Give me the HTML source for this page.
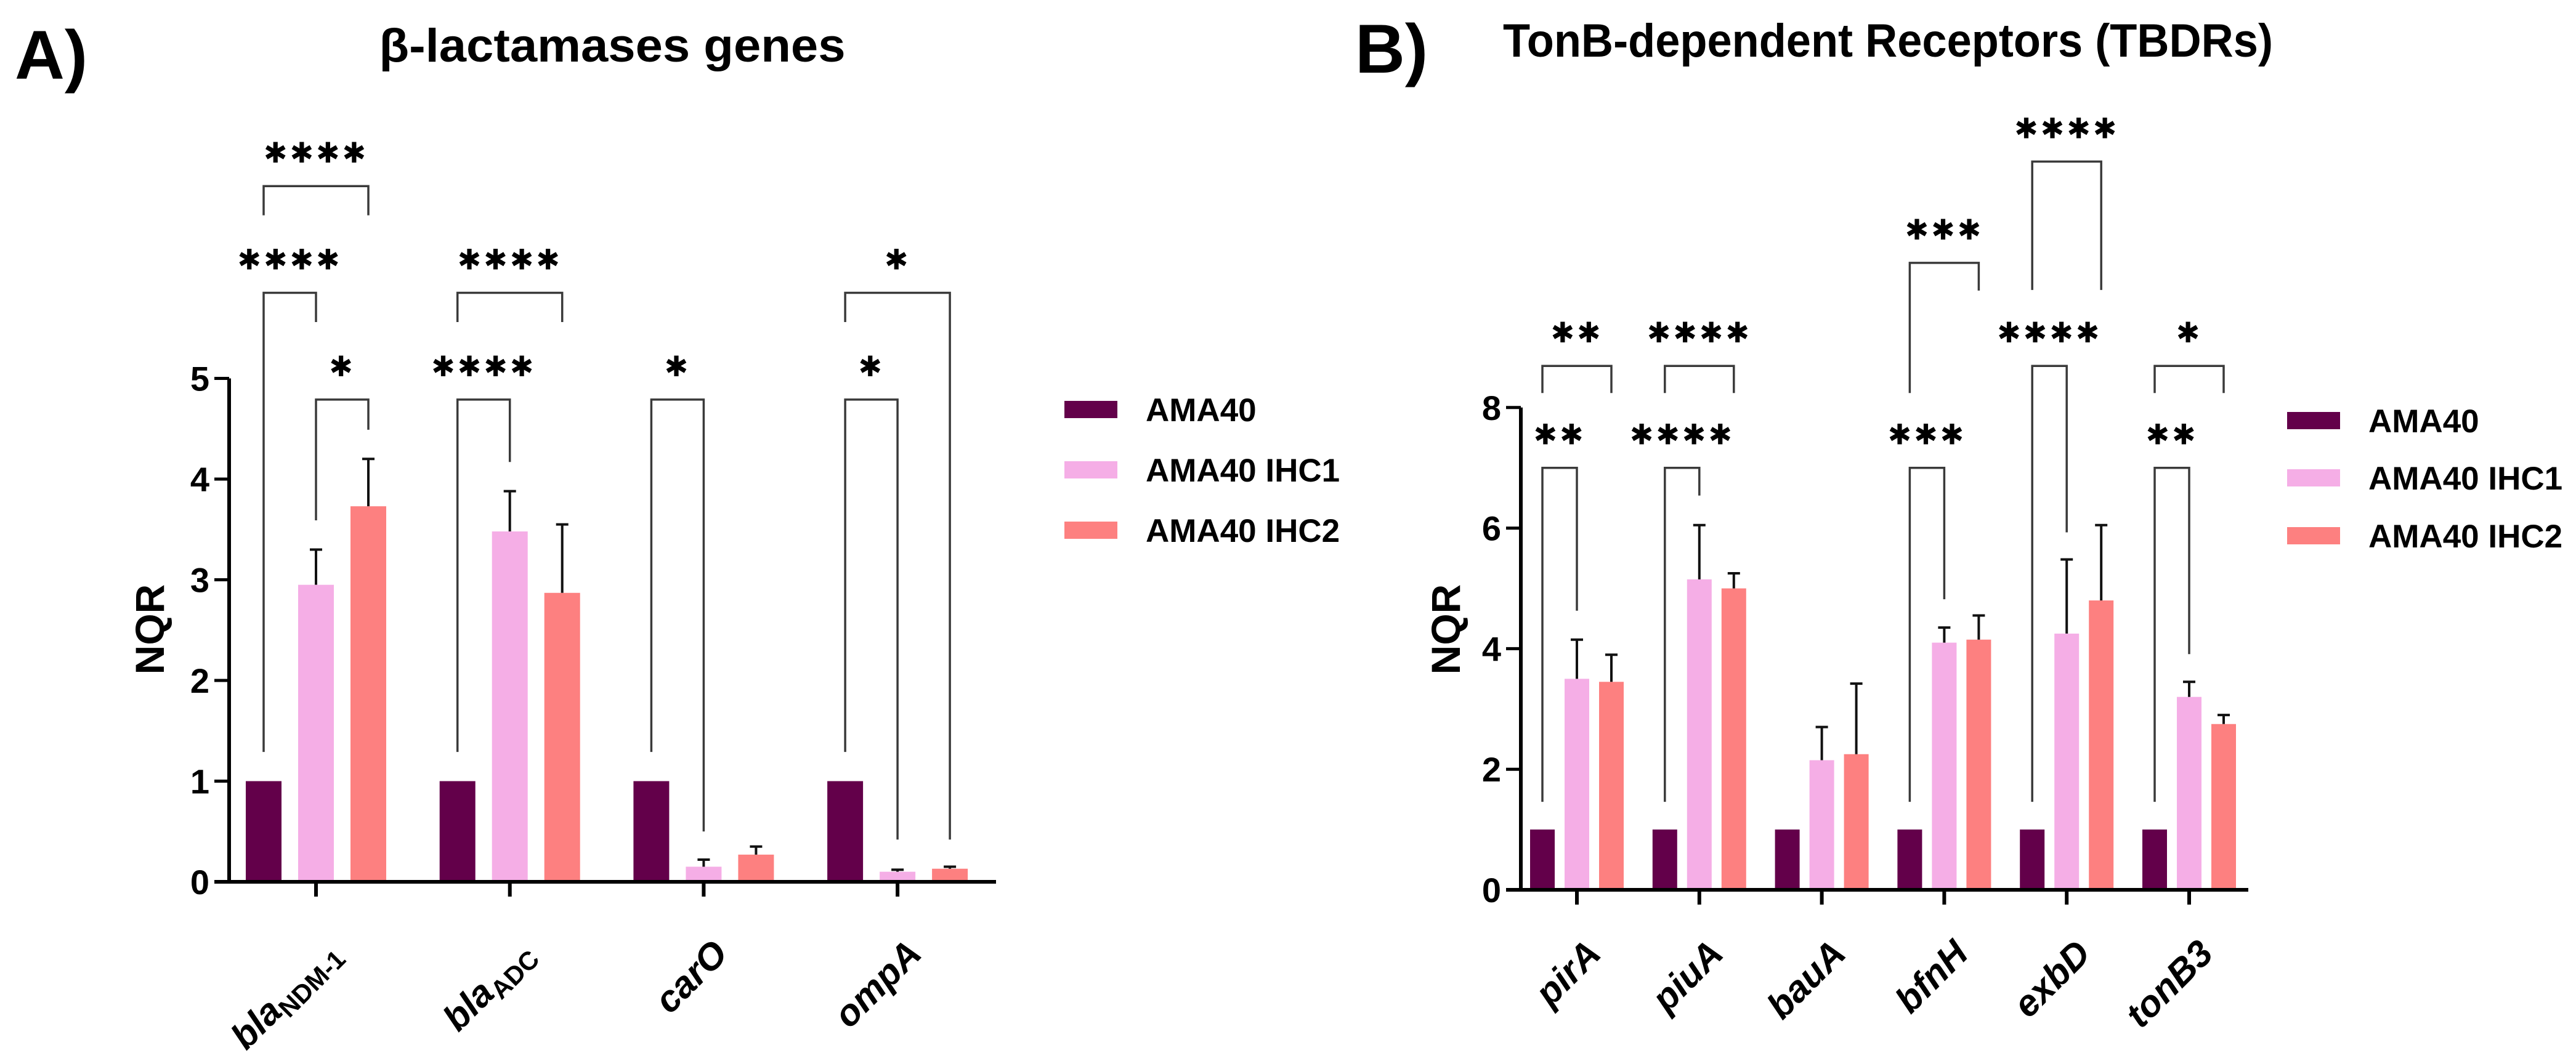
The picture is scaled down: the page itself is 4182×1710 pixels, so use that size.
<!DOCTYPE html>
<html><head><meta charset="utf-8"><style>
html,body{margin:0;padding:0;background:#fff;}
svg{display:block;}
text{font-family:"Liberation Sans","DejaVu Sans",sans-serif;font-weight:bold;fill:#000;}
.star{font-family:"DejaVu Sans",sans-serif;font-size:46px;letter-spacing:4px;}
</style></head><body>
<svg id="fig" width="4182" height="1710" viewBox="0 0 4182 1710" xmlns="http://www.w3.org/2000/svg">
<g id="panelA"></g>
<g id="panelB"></g>
</svg>
<script>
// ---- Panel A data ----
const catsA = ["NDM","ADC","carO","ompA"];
const amaA = [1,1,1,1];
const ihc1A = [2.95,3.48,0.15,0.10];
const ihc2A = [3.73,2.87,0.27,0.13];
const ihc1ErrA = [3.30,3.88,0.22,0.12];
const ihc2ErrA = [4.20,3.55,0.35,0.15];
const yTicksA = [0,1,2,3,4,5];
// brackets: [category, barFrom, barTo, topValue, leftLegEnd, rightLegEnd, label]
const bracketsA = [
 [0,0,1,5.85,1.29,5.56,"****"],
 [0,1,2,4.79,3.59,4.49,"*"],
 [0,0,2,6.91,6.62,6.62,"****"],
 [1,0,1,4.79,1.29,4.17,"****"],
 [1,0,2,5.85,5.56,5.56,"****"],
 [2,0,1,4.79,1.29,0.50,"*"],
 [3,0,1,4.79,1.29,0.42,"*"],
 [3,0,2,5.85,5.56,0.42,"*"]
];
// ---- Panel B data ----
const catsB = ["pirA","piuA","bauA","bfnH","exbD","tonB3"];
const amaB = [1,1,1,1,1,1];
const ihc1B = [3.50,5.15,2.15,4.10,4.25,3.20];
const ihc2B = [3.45,5.00,2.25,4.15,4.80,2.75];
const ihc1ErrB = [4.15,6.05,2.70,4.35,5.48,3.45];
const ihc2ErrB = [3.90,5.25,3.42,4.55,6.05,2.90];
const yTicksB = [0,2,4,6,8];
const bracketsB = [
 [0,0,1,7.0,1.46,4.63,"**"],
 [0,0,2,8.69,8.24,8.24,"**"],
 [1,0,1,7.0,1.46,6.54,"****"],
 [1,0,2,8.69,8.24,8.24,"****"],
 [3,0,1,7.0,1.46,4.82,"***"],
 [3,0,2,10.4,8.24,9.94,"***"],
 [4,0,1,8.69,1.46,5.93,"****"],
 [4,0,2,12.08,9.95,9.95,"****"],
 [5,0,1,7.0,1.46,3.91,"**"],
 [5,0,2,8.69,8.24,8.24,"*"]
];
const colors = ["#63004a","#f5aee6","#fd8080"];
const seriesNames = ["AMA40","AMA40 IHC1","AMA40 IHC2"];
const NS="http://www.w3.org/2000/svg";
function mk(parent,tag,attrs){const e=document.createElementNS(NS,tag);for(const k in attrs)e.setAttribute(k,attrs[k]);parent.appendChild(e);return e;}

function drawPanel(g,cfg){
  const y=v=>cfg.y0-v*cfg.unit;
  const cx=i=>cfg.c0+i*cfg.step;
  const bx=(i,s)=>cx(i)+(s-1)*cfg.off;
  const vals=[cfg.ama,cfg.ihc1,cfg.ihc2];
  const errs=[null,cfg.e1,cfg.e2];
  for(let s=0;s<3;s++){
    for(let i=0;i<cfg.cats.length;i++){
      const v=vals[s][i];
      const r=mk(g,'rect',{x:bx(i,s)-cfg.bw/2,y:y(v),width:cfg.bw,height:cfg.y0-y(v),fill:colors[s]});
      
      
      if(errs[s]){
        const e=errs[s][i];
        const l=mk(g,'path',{d:`M${bx(i,s)} ${y(v)}V${y(e)}M${bx(i,s)-10} ${y(e)}H${bx(i,s)+10}`,stroke:'#111','stroke-width':4,fill:'none'});
        
        
      }
    }
  }
  cfg.br.forEach(b=>{
    const [c,a,bb,top,le,re,lab]=b;
    const x1=bx(c,a),x2=bx(c,bb);
    const p=mk(g,'path',{d:`M${x1} ${y(le)}V${y(top)}H${x2}V${y(re)}`,stroke:'#3a3a3a','stroke-width':3.5,fill:'none'});
    
    
    const t=mk(g,'text',{x:(x1+x2)/2,y:y(top)-38,'text-anchor':'middle',class:'star'});
    t.textContent=lab.replace(/\*/g,'✱');
    
    
  });
  const ax=mk(g,'path',{d:`M${cfg.ax} ${y(cfg.yt[cfg.yt.length-1])}V${cfg.y0}M${cfg.ax-24} ${cfg.y0}H${cfg.xEnd}`,stroke:'#000','stroke-width':6,fill:'none'});
  
  
  cfg.yt.forEach(v=>{
    mk(g,'line',{x1:cfg.ax-24,x2:cfg.ax,y1:y(v),y2:y(v),stroke:'#000','stroke-width':5});
    const t=mk(g,'text',{x:cfg.ax-32,y:y(v)+20,'text-anchor':'end','font-size':56});
    t.textContent=v;
    
    
  });
  cfg.cats.forEach((c,i)=>{
    mk(g,'line',{x1:cx(i),x2:cx(i),y1:cfg.y0,y2:cfg.y0+24,stroke:'#000','stroke-width':6});
    const t=mk(g,'text',{transform:`translate(${cx(i)+42},${1552}) rotate(-45)`,'text-anchor':'end','font-size':60,'font-style':'italic'});
    if(c==="NDM"||c==="ADC"){
      t.innerHTML='bla<tspan font-size="42" font-style="normal" dy="12">'+(c==="NDM"?"NDM-1":"ADC")+'</tspan>';
    } else t.textContent=c;
    
    
  });
  const yl=mk(g,'text',{transform:`translate(${cfg.nqrX},${cfg.nqrY}) rotate(-90)`,'text-anchor':'middle','font-size':66});
  yl.textContent='NQR';
  
  
  for(let s=0;s<3;s++){
    const ly=cfg.legY[s];
    const r=mk(g,'rect',{x:cfg.legX,y:ly-14,width:86,height:28,fill:colors[s]});
    
    
    const t=mk(g,'text',{x:cfg.legX+132,y:ly+19,'font-size':53});
    t.textContent=seriesNames[s];
    
    
  }
  const tt=mk(g,'text',{x:cfg.titleX,y:cfg.titleY,'text-anchor':'middle','font-size':76,textLength:cfg.titleW,lengthAdjust:'spacingAndGlyphs'});
  tt.textContent=cfg.title;
  
  
  const pl=mk(g,'text',{x:cfg.plX,y:cfg.plY,'font-size':112});
  pl.textContent=cfg.pl;
  
  
}

drawPanel(document.getElementById('panelA'),{cats:catsA,ama:amaA,ihc1:ihc1A,ihc2:ihc2A,e1:ihc1ErrA,e2:ihc2ErrA,yt:yTicksA,br:bracketsA,
 y0:1432,unit:163.5,c0:513,step:314.7,off:85,bw:58,ax:372,xEnd:1617,nqrX:266,nqrY:1022,
 legX:1728,legY:[665,763,861],title:"β-lactamases genes",titleX:994,titleY:100,titleW:757,pl:"A)",plX:24,plY:128});
drawPanel(document.getElementById('panelB'),{cats:catsB,ama:amaB,ihc1:ihc1B,ihc2:ihc2B,e1:ihc1ErrB,e2:ihc2ErrB,yt:yTicksB,br:bracketsB,
 y0:1445,unit:97.9,c0:2560,step:198.8,off:56,bw:40,ax:2469,xEnd:3650,nqrX:2370,nqrY:1022,
 legX:3713,legY:[683,776,870],title:"TonB-dependent Receptors (TBDRs)",titleX:3065,titleY:92,titleW:1250,pl:"B)",plX:2200,plY:118});
</script>
</body></html>
